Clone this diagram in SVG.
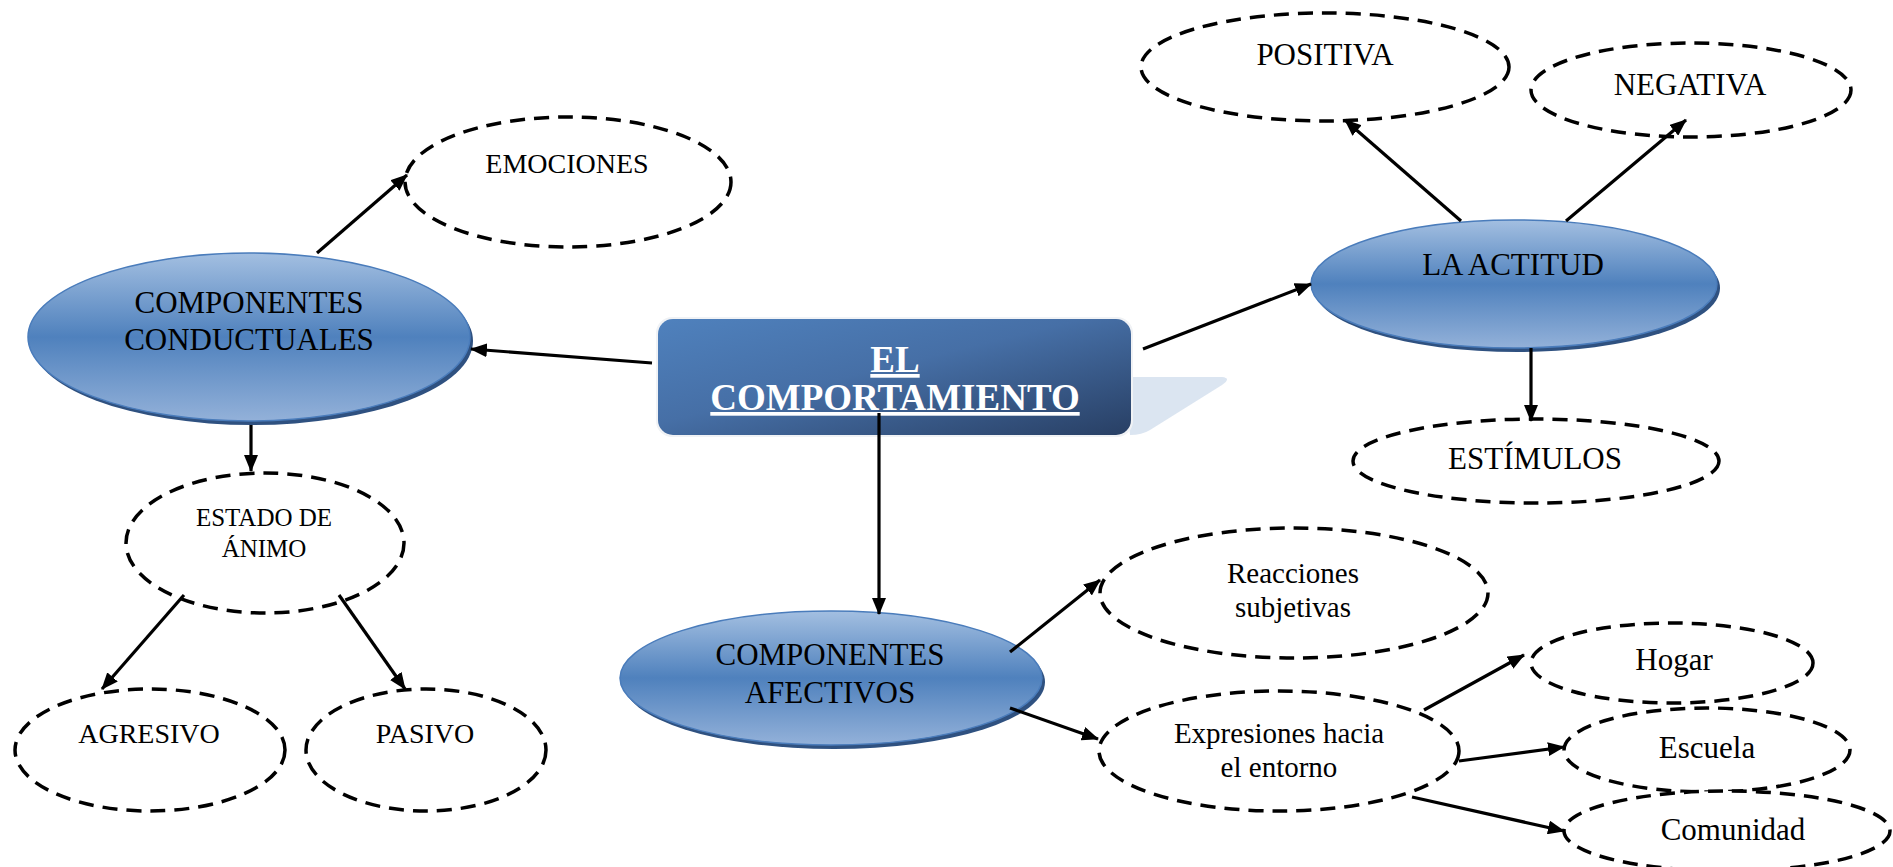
<svg xmlns="http://www.w3.org/2000/svg" width="1893" height="867" viewBox="0 0 1893 867">
<defs>
<linearGradient id="gEll" x1="0" y1="0" x2="0" y2="1">
<stop offset="0" stop-color="#a3bfe1"/>
<stop offset="0.5" stop-color="#4f81bd"/>
<stop offset="1" stop-color="#93b1d9"/>
</linearGradient>
<linearGradient id="gBox" x1="0" y1="0" x2="1" y2="1">
<stop offset="0" stop-color="#4f81bd"/>
<stop offset="0.45" stop-color="#466fa6"/>
<stop offset="1" stop-color="#283f64"/>
</linearGradient>
<marker id="ah" markerUnits="userSpaceOnUse" markerWidth="18" markerHeight="14" refX="16" refY="7" orient="auto">
<path d="M0,0 L17,7 L0,14 z" fill="#000"/>
</marker>
<style>
.blue{fill:url(#gEll);stroke:#4a7cbb;stroke-width:1.5}
.bsh{fill:#2f5180}
.dash{fill:#fff;stroke:#000;stroke-width:3.5;stroke-dasharray:15 9}
.t{font-family:"Liberation Serif","Times New Roman",serif;fill:#000;text-anchor:middle}
.c{fill:none;stroke:#000;stroke-width:3.2;marker-end:url(#ah)}
</style>
</defs>
<rect width="1893" height="867" fill="#fff"/>

<g id="node-center">
<path d="M1125,377 L1222,377 Q1232,378 1222,385 L1150,430 Q1142,435 1130,435 Z" fill="#dbe5f1"/>
<rect x="656" y="317" width="477" height="120" rx="16" fill="#f0f2f5"/>
<rect x="658" y="319" width="473" height="116" rx="15" fill="url(#gBox)"/>
<text class="t" x="895" y="372" font-size="37" font-weight="bold" fill="#fff" style="fill:#fff" text-decoration="underline">EL</text>
<text class="t" x="895" y="410" font-size="37" font-weight="bold" style="fill:#fff" text-decoration="underline">COMPORTAMIENTO</text>
</g>

<g id="node-conductuales">
<ellipse class="bsh" cx="252" cy="341" rx="221" ry="84"/>
<ellipse class="blue" cx="249" cy="337" rx="221" ry="84"/>
<text class="t" x="249" y="313" font-size="31">COMPONENTES</text>
<text class="t" x="249" y="350" font-size="31">CONDUCTUALES</text>
</g>

<g id="node-actitud">
<ellipse class="bsh" cx="1517" cy="288" rx="203" ry="64"/>
<ellipse class="blue" cx="1514" cy="284" rx="203" ry="64"/>
<text class="t" x="1513" y="275" font-size="31">LA ACTITUD</text>
</g>

<g id="node-afectivos">
<ellipse class="bsh" cx="834" cy="682" rx="211" ry="67"/>
<ellipse class="blue" cx="831" cy="678" rx="211" ry="67"/>
<text class="t" x="830" y="665" font-size="31">COMPONENTES</text>
<text class="t" x="830" y="703" font-size="31">AFECTIVOS</text>
</g>

<g id="node-emociones">
<ellipse class="dash" cx="568" cy="182" rx="163" ry="65"/>
<text class="t" x="567" y="173" font-size="28">EMOCIONES</text>
</g>

<g id="node-positiva">
<ellipse class="dash" cx="1325" cy="67" rx="184" ry="54"/>
<text class="t" x="1325" y="65" font-size="31">POSITIVA</text>
</g>

<g id="node-negativa">
<ellipse class="dash" cx="1691" cy="90" rx="160" ry="47"/>
<text class="t" x="1690" y="95" font-size="31">NEGATIVA</text>
</g>

<g id="node-estimulos">
<ellipse class="dash" cx="1536" cy="461" rx="183" ry="42"/>
<text class="t" x="1535" y="469" font-size="31">ESTÍMULOS</text>
</g>

<g id="node-estado">
<ellipse class="dash" cx="265" cy="543" rx="139" ry="70"/>
<text class="t" x="264" y="526" font-size="25">ESTADO DE</text>
<text class="t" x="264" y="557" font-size="25">ÁNIMO</text>
</g>

<g id="node-agresivo">
<ellipse class="dash" cx="150" cy="750" rx="135" ry="61"/>
<text class="t" x="149" y="743" font-size="28">AGRESIVO</text>
</g>

<g id="node-pasivo">
<ellipse class="dash" cx="426" cy="750" rx="120" ry="61"/>
<text class="t" x="425" y="743" font-size="28">PASIVO</text>
</g>

<g id="node-reacciones">
<ellipse class="dash" cx="1294" cy="593" rx="194" ry="65"/>
<text class="t" x="1293" y="583" font-size="29">Reacciones</text>
<text class="t" x="1293" y="617" font-size="29">subjetivas</text>
</g>

<g id="node-expresiones">
<ellipse class="dash" cx="1279" cy="751" rx="180" ry="60"/>
<text class="t" x="1279" y="743" font-size="29">Expresiones hacia</text>
<text class="t" x="1279" y="777" font-size="29">el entorno</text>
</g>

<g id="node-hogar">
<ellipse class="dash" cx="1672" cy="663" rx="141" ry="40"/>
<text class="t" x="1674" y="670" font-size="31">Hogar</text>
</g>

<g id="node-escuela">
<ellipse class="dash" cx="1707" cy="750" rx="143" ry="42"/>
<text class="t" x="1707" y="758" font-size="31">Escuela</text>
</g>

<g id="node-comunidad">
<ellipse class="dash" cx="1727" cy="831" rx="163" ry="40"/>
<text class="t" x="1733" y="840" font-size="31">Comunidad</text>
</g>

<g id="connectors">
<line class="c" x1="652" y1="363" x2="471" y2="349"/>
<line class="c" x1="1143" y1="349" x2="1311" y2="284"/>
<line class="c" x1="879" y1="413" x2="879" y2="614"/>
<line class="c" x1="317" y1="253" x2="407" y2="175"/>
<line class="c" x1="251" y1="425" x2="251" y2="471"/>
<line class="c" x1="184" y1="595" x2="102" y2="689"/>
<line class="c" x1="339" y1="595" x2="405" y2="689"/>
<line class="c" x1="1461" y1="221" x2="1345" y2="120"/>
<line class="c" x1="1566" y1="221" x2="1686" y2="120"/>
<line class="c" x1="1531" y1="348" x2="1531" y2="421"/>
<line class="c" x1="1010" y1="652" x2="1100" y2="580"/>
<line class="c" x1="1010" y1="708" x2="1098" y2="739"/>
<line class="c" x1="1424" y1="710" x2="1524" y2="655"/>
<line class="c" x1="1459" y1="761" x2="1564" y2="747"/>
<line class="c" x1="1412" y1="797" x2="1564" y2="831"/>
</g>
</svg>
